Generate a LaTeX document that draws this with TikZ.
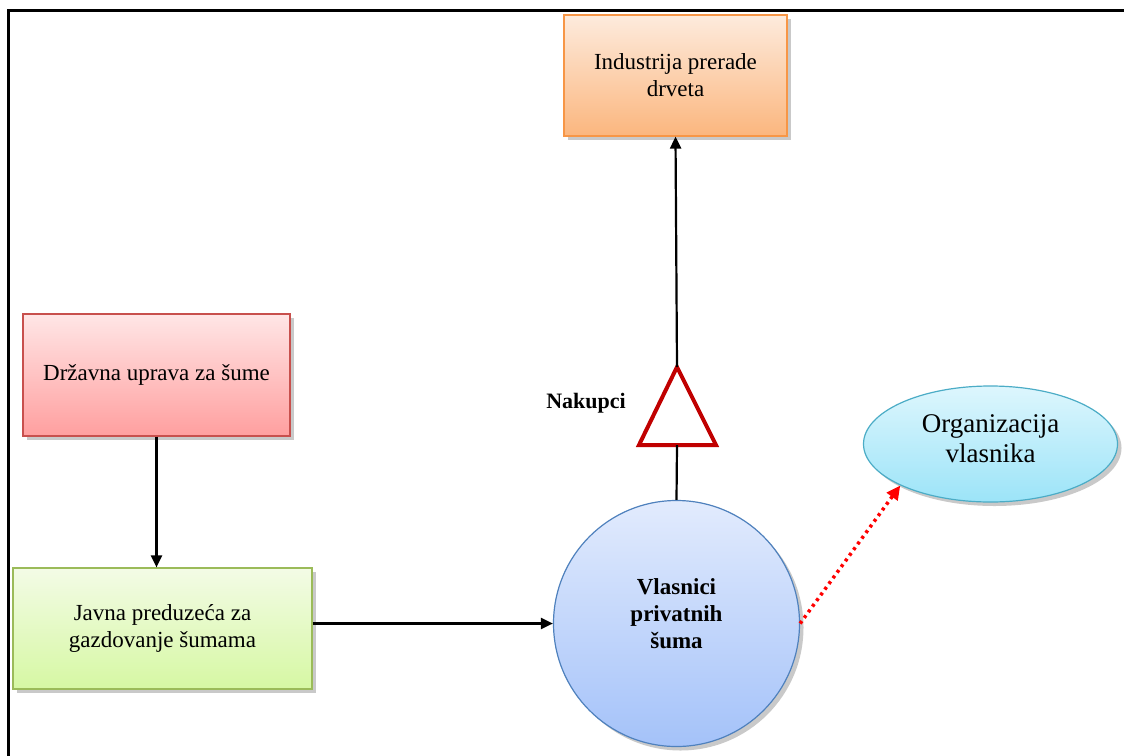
\documentclass[tikz,border=0pt]{standalone}
\usepackage{fontspec}
\setmainfont{Liberation Serif}
\usetikzlibrary{arrows.meta,shadows,shapes.geometric}
\definecolor{indtop}{HTML}{FDEBDD}
\definecolor{indbot}{HTML}{FBB67E}
\definecolor{indbd}{HTML}{F79646}
\definecolor{drztop}{HTML}{FFE6E6}
\definecolor{drzbot}{HTML}{FF9F9F}
\definecolor{drzbd}{HTML}{C8504D}
\definecolor{javtop}{HTML}{F3FBE6}
\definecolor{javbot}{HTML}{D6F8A3}
\definecolor{javbd}{HTML}{9BBB59}
\definecolor{cirtop}{HTML}{E2EBFD}
\definecolor{cirbot}{HTML}{A4C2F9}
\definecolor{cirbd}{HTML}{4F81BD}
\definecolor{orgtop}{HTML}{DDF6FD}
\definecolor{orgbot}{HTML}{9CE4F8}
\definecolor{orgbd}{HTML}{4BACC6}
\definecolor{tridark}{HTML}{C00000}
\begin{document}
\begin{tikzpicture}[x=1pt,y=-1pt,
  shadowed/.style={drop shadow={shadow xshift=4pt,shadow yshift=-4pt,opacity=0.3,fill=black!70}},
  box/.style={rectangle, line width=1.2pt, inner sep=0pt, align=center,
    font=\fontsize{23}{27}\selectfont, shadowed},
  conn/.style={line width=2.2pt, -{Triangle[length=12pt,width=11pt]}},
  plain/.style={line width=2.2pt},
  reddot/.style={draw=red, line width=3.5pt, dash pattern=on 3pt off 4pt,
    -{Triangle[length=14pt,width=13pt,fill=red]}},
  frame/.style={line width=2.5pt}]
\useasboundingbox (0,0) rectangle (1124,755);
\draw[frame] (8.5,770) -- (8.5,10.5) -- (1140,10.5);

\node[box, draw=indbd, top color=indtop, bottom color=indbot,
  minimum width=223pt, minimum height=121pt] (ind) at (675.5,75.5) {Industrija prerade\\drveta};
\node[box, draw=drzbd, top color=drztop, bottom color=drzbot,
  minimum width=267pt, minimum height=122pt] (drz) at (156.5,375) {Državna uprava za šume};
\node[box, draw=javbd, top color=javtop, bottom color=javbot,
  minimum width=299pt, minimum height=121pt] (jav) at (162.5,628.5) {Javna preduzeća za\\gazdovanje šumama};
\node[circle, draw=cirbd, line width=1.2pt, top color=cirtop, bottom color=cirbot,
  minimum size=246pt, inner sep=0pt, align=center, shadowed,
  font=\bfseries\fontsize{23}{27}\selectfont] (cir) at (676.5,623.5) {Vlasnici\\privatnih\\šuma\\[-7pt]};
\node[ellipse, draw=orgbd, line width=1.2pt, top color=orgtop, bottom color=orgbot,
  minimum width=254pt, minimum height=116pt, inner sep=0pt, align=center, shadowed,
  font=\fontsize{27}{30}\selectfont] (org) at (990.5,444) {Organizacija\\vlasnika\\[-20pt]};

\coordinate (tritop) at (677,367);
\coordinate (tribase) at (677,445);
\coordinate (triL) at (639,445);
\coordinate (triR) at (716,445);
\draw[tridark, line width=4pt, line join=miter] (triL) -- (tritop) -- (triR) -- cycle;
\node[font=\bfseries\fontsize{22}{26}\selectfont] (nak) at (586,403) {Nakupci};

\draw[plain] (cir.north) -- (tribase);
\draw[conn] (tritop) -- (ind.south);
\draw[conn] (drz.south) -- (drz.south |- jav.north);
\draw[conn] (jav.east |- cir.west) -- (cir.west);
\draw[reddot] (cir.east) -- (org.south west);
\end{tikzpicture}
\end{document}
